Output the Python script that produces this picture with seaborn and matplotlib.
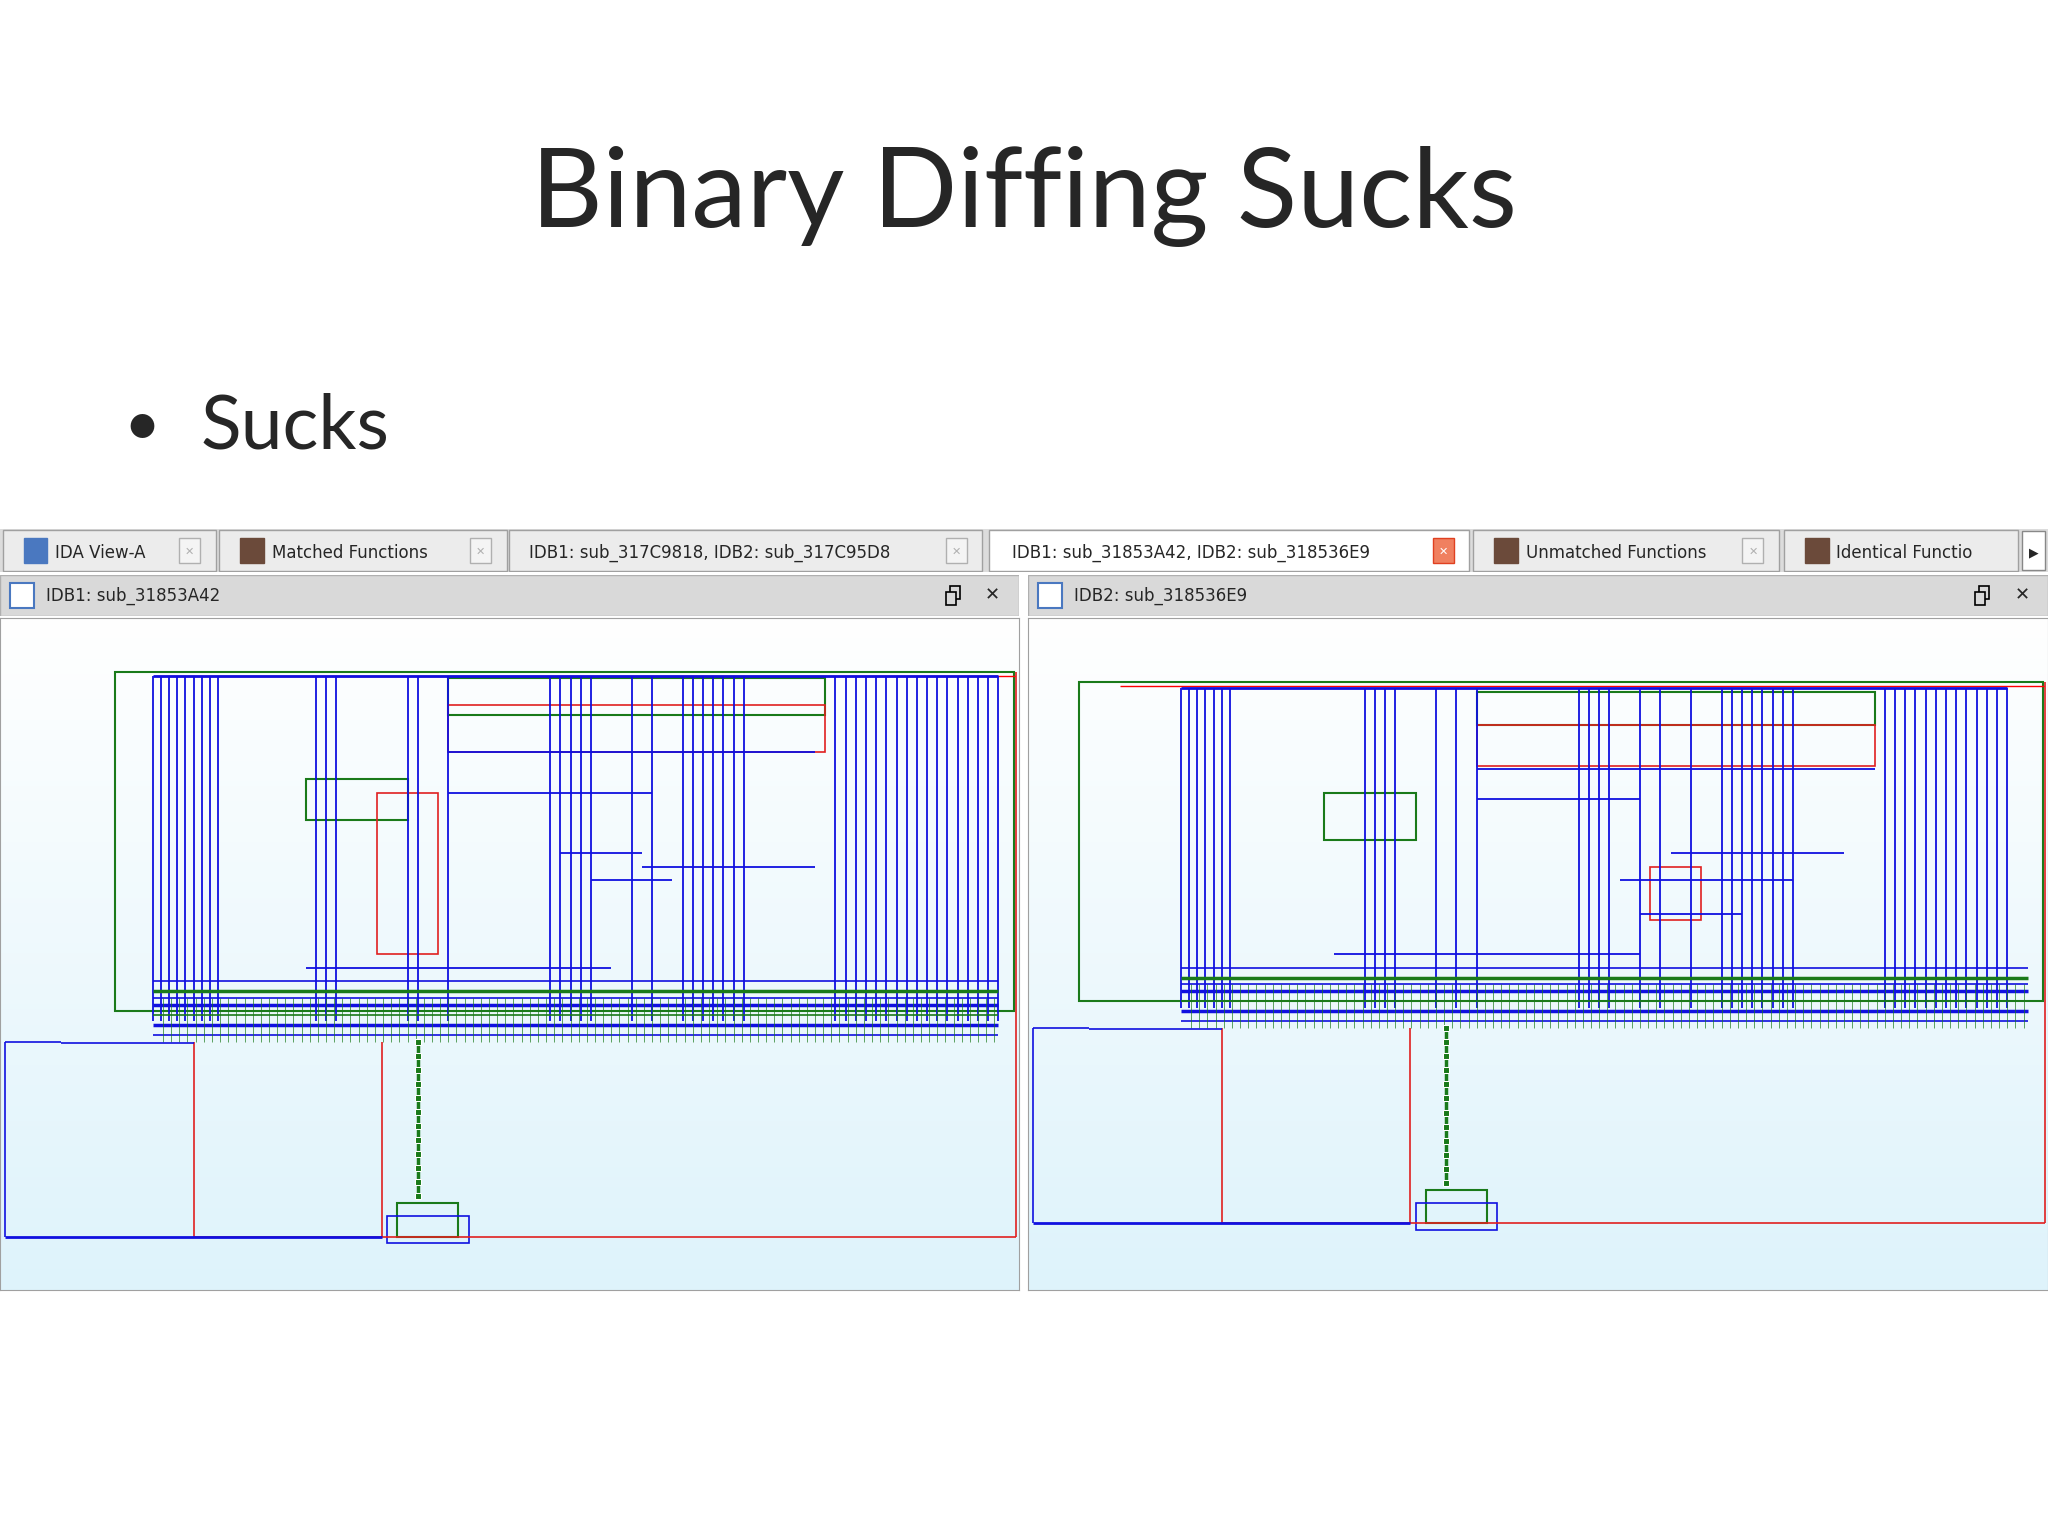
import numpy as np
import seaborn as sns
import matplotlib.pyplot as plt
from matplotlib.patches import Rectangle

sns.set_style("white")
plt.rcParams['font.family'] = ['Lato', 'DejaVu Sans']

title = "Binary Diffing Sucks"
bullet = "Sucks"

tab_labels = ["IDA View-A", "Matched Functions", "IDB1: sub_317C9818, IDB2: sub_317C95D8",
              "IDB1: sub_31853A42, IDB2: sub_318536E9", "Unmatched Functions", "Identical Functio"]
tab_left = [2, 168, 390, 757, 1128, 1366]
tab_right = [165, 388, 752, 1125, 1362, 1545]
active_tab = 3
panel_titles = ["IDB1: sub_31853A42", "IDB2: sub_318536E9"]

# graph layout per panel (x 0-100, y 0-100 from top)
blue_x = [
    [15, 15.8, 16.6, 17.4, 18.2, 19, 19.8, 20.6, 21.4, 31, 32, 33, 40, 41, 44, 54, 55, 56, 57, 58,
     62, 64, 67, 68, 69, 70, 71, 72, 73, 82, 83, 84, 85, 86, 87, 88, 89, 90, 91, 92, 93, 94, 95, 96, 97, 98],
    [15, 15.8, 16.6, 17.4, 18.2, 19, 19.8, 33, 34, 35, 36, 40, 42, 44, 54, 55, 56, 57, 60, 62,
     65, 68, 69, 70, 71, 72, 73, 74, 75, 84, 85, 86, 87, 88, 89, 90, 91, 92, 93, 94, 95, 96],
]
blue_top = [8.6, 10.5]
blue_bottom = [60, 58]
green_box = [(11.3, 8.0, 99.5, 58.5), (5.0, 9.5, 99.5, 57.0)]
outer_red_bottom = [92, 90]
left_box_top = [63, 61]
tree_x = [41, 41]
band_y = [[54, 55.5, 56.5, 57.5, 59, 60.5, 62], [52, 53.5, 54.5, 55.5, 57, 58.5, 60]]
inner_h_blue = [
    [(44, 80, 20), (44, 64, 26), (55, 63, 35), (63, 80, 37), (58, 66, 39), (30, 60, 52)],
    [(44, 83, 22.5), (44, 60, 27), (63, 80, 35), (58, 75, 39), (60, 70, 44), (30, 60, 50)],
]
green_rects = [[(44, 9, 81, 14.5), (30, 24, 40, 30)], [(44, 11, 83, 16), (29, 26, 38, 33)]]
red_rects = [[(44, 13, 81, 20), (37, 26, 43, 50)], [(44, 16, 83, 22), (61, 37, 66, 45)]]

fig = plt.figure(figsize=(20.48, 15.36), dpi=100)
fig.text(0.5, 0.872, title, ha='center', va='center', fontsize=80)
fig.text(0.06, 0.722, "•", ha='left', va='center', fontsize=46)
fig.text(0.098, 0.722, bullet, ha='left', va='center', fontsize=54)

W, H = 1568, 1176
def fx(px):
    return px / W
def fy(py):
    return 1 - py / H

# tab bar
tab_ax = fig.add_axes([0, fy(438), 1, 33 / H])
tab_ax.set_xlim(0, W)
tab_ax.set_ylim(0, 1)
tab_ax.axis('off')
tab_ax.add_patch(Rectangle((0, 0), W, 1, color='#dcdcdc'))
for i, lab in enumerate(tab_labels):
    col = 'white' if i == active_tab else '#ececec'
    tab_ax.add_patch(Rectangle((tab_left[i], 0.02), tab_right[i] - tab_left[i], 0.96,
                               facecolor=col, edgecolor='#a0a0a0', lw=1))
    off = 18 if i == active_tab else (40 if i in (0, 1, 4, 5) else 15)
    tab_ax.text(tab_left[i] + off, 0.45, lab, fontsize=12, va='center', family=['DejaVu Sans'])
    if i in (0, 1, 4, 5):
        tab_ax.add_patch(Rectangle((tab_left[i] + 16, 0.2), 18, 0.6, color='#6b4a3a' if i else '#4a78c0'))
    if i < 5:
        xc = tab_right[i] - 28
        ec = '#e04020' if i == active_tab else '#b0b0b0'
        tab_ax.add_patch(Rectangle((xc, 0.22), 16, 0.56, facecolor='#f4f4f4' if i != active_tab else '#f08060', edgecolor=ec))
        tab_ax.text(xc + 8, 0.48, "✕", fontsize=8, ha='center', va='center', family=['DejaVu Sans'],
                    color='white' if i == active_tab else '#b0b0b0')
tab_ax.add_patch(Rectangle((1548, 0.05), 18, 0.9, facecolor='white', edgecolor='#888'))
tab_ax.text(1557, 0.45, "▶", fontsize=9, ha='center', va='center', family=['DejaVu Sans'])

# panels
panel_x = [(0, 780), (787, 1568)]
grad = np.linspace(0, 1, 256).reshape(-1, 1)
for p in range(2):
    x0, x1 = panel_x[p]
    hax = fig.add_axes([fx(x0), fy(472), fx(x1 - x0), 32 / H])
    hax.set_xlim(0, x1 - x0)
    hax.set_ylim(0, 1)
    hax.axis('off')
    hax.add_patch(Rectangle((0, 0), x1 - x0, 1, facecolor='#d9d9d9', edgecolor='#b0b0b0'))
    hax.add_patch(Rectangle((8, 0.2), 18, 0.6, facecolor='white', edgecolor='#4a78c0', lw=1.5))
    hax.text(35, 0.5, panel_titles[p], fontsize=12, va='center', family=['DejaVu Sans'])
    # restore icon drawn as two small squares
    rx = x1 - x0 - 56
    hax.add_patch(Rectangle((rx + 3, 0.42), 8, 0.3, fill=False, ec='black', lw=1.2))
    hax.add_patch(Rectangle((rx, 0.28), 8, 0.3, facecolor='#d9d9d9', ec='black', lw=1.2))
    hax.text(x1 - x0 - 20, 0.5, "✕", fontsize=13, va='center', ha='center', family=['DejaVu Sans'])

    ax = fig.add_axes([fx(x0), fy(988), fx(x1 - x0), 515 / H])
    ax.imshow(grad, extent=[0, 100, 100, 0], cmap=sns.blend_palette(['#ffffff', '#def3fb'], as_cmap=True),
              aspect='auto', zorder=0)
    ax.set_xlim(0, 100)
    ax.set_ylim(100, 0)
    ax.set_xticks([])
    ax.set_yticks([])
    for s in ax.spines.values():
        s.set_color('#a0a0a0')

    gx0, gy0, gx1, gy1 = green_box[p]
    ax.add_patch(Rectangle((gx0, gy0), gx1 - gx0, gy1 - gy0, fill=False, ec='#1a7a1a', lw=1.5))
    ax.hlines(gy0 + 0.6, gx0 + 4, 99.6, color='red', lw=1)
    ax.vlines(blue_x[p], blue_top[p], blue_bottom[p], color='#1010e0', lw=1.3)
    ax.hlines(blue_top[p], min(blue_x[p]), max(blue_x[p]), color='#1010e0', lw=2)
    for (a, b, y) in inner_h_blue[p]:
        ax.hlines(y, a, b, color='#1010e0', lw=1.3)
    for (a, y0, b, y1) in green_rects[p]:
        ax.add_patch(Rectangle((a, y0), b - a, y1 - y0, fill=False, ec='#1a7a1a', lw=1.5))
    for (a, y0, b, y1) in red_rects[p]:
        ax.add_patch(Rectangle((a, y0), b - a, y1 - y0, fill=False, ec='#e02020', lw=1.2))
    for k, y in enumerate(band_y[p]):
        ax.hlines(y, 15, 98, color=['#1010e0', '#1a7a1a', '#1010e0'][k % 3], lw=2.5 if k % 2 else 1.2)
    ax.vlines(np.arange(16, 98, 0.8), band_y[p][2], band_y[p][-1] + 1,
              color='#1a7a1a', lw=0.6, alpha=0.8)
    # outer red
    ax.vlines(99.7, gy0, outer_red_bottom[p], color='#e02020', lw=1.2)
    ax.hlines(outer_red_bottom[p], 19, 99.7, color='#e02020', lw=1.2)
    ax.vlines(19, left_box_top[p], outer_red_bottom[p], color='#e02020', lw=1.2)
    ax.vlines(37.5, left_box_top[p], outer_red_bottom[p], color='#e02020', lw=1.2)
    # left blue box
    ax.hlines(left_box_top[p], 0.5, 6, color='#1010e0', lw=1.2)
    ax.hlines(left_box_top[p] + 0.2, 6, 19, color='#1010e0', lw=1.2)
    ax.vlines(0.5, left_box_top[p], outer_red_bottom[p], color='#1010e0', lw=1.2)
    ax.hlines(outer_red_bottom[p], 0.5, 37.5, color='#1010e0', lw=2)
    # bottom tree
    t = tree_x[p]
    ty = np.linspace(left_box_top[p], outer_red_bottom[p] - 6, 12)
    sns.lineplot(x=[t] * len(ty), y=ty, ax=ax, color='#1a7a1a', linewidth=2.5,
                 sort=False, estimator=None, marker='s', markersize=4)
    ax.add_patch(Rectangle((t - 2, outer_red_bottom[p] - 5), 6, 5, fill=False, ec='#1a7a1a', lw=1.5))
    ax.add_patch(Rectangle((t - 3, outer_red_bottom[p] - 3), 8, 4, fill=False, ec='#1010e0', lw=1.2))

fig.savefig("out.png", dpi=100)
